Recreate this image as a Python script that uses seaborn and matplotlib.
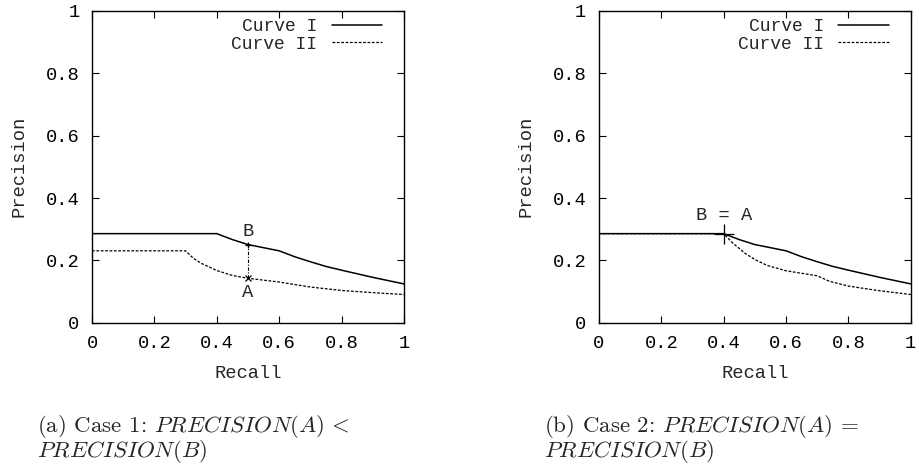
import matplotlib
matplotlib.use("Agg")
import matplotlib.pyplot as plt
import seaborn as sns
import pandas as pd

# ---- data ----
recall_I = [0.0, 0.4, 0.45, 0.5, 0.6, 0.65, 0.7, 0.75, 0.8, 0.9, 1.0]
prec_I = [0.286, 0.286, 0.267, 0.251, 0.231, 0.212, 0.196, 0.181, 0.169, 0.146, 0.125]

recall_II_a = [0.0, 0.3, 0.325, 0.35, 0.4, 0.45, 0.5, 0.6, 0.7, 0.8, 0.9, 1.0]
prec_II_a = [0.231, 0.231, 0.207, 0.191, 0.168, 0.152, 0.143, 0.131, 0.115, 0.104, 0.097, 0.091]

recall_II_b = [0.0, 0.4, 0.43, 0.47, 0.5, 0.54, 0.6, 0.7, 0.74, 0.8, 0.9, 1.0]
prec_II_b = [0.286, 0.286, 0.255, 0.222, 0.203, 0.184, 0.167, 0.151, 0.133, 0.118, 0.103, 0.091]

point_A_a = (0.5, 0.143)
point_B_a = (0.5, 0.251)
point_BA_b = (0.4, 0.286)

ticks = [0, 0.2, 0.4, 0.6, 0.8, 1]
tick_labels = ["0", "0.2", "0.4", "0.6", "0.8", "1"]
caption_a = ["(a) Case 1: $PRECISION(A)\\,<$", "$PRECISION(B)$"]
caption_b = ["(b) Case 2: $PRECISION(A)\\,=$", "$PRECISION(B)$"]

sns.set_style("ticks")
plt.rcParams["font.family"] = ["Liberation Mono", "DejaVu Sans Mono"]
plt.rcParams["mathtext.fontset"] = "cm"

fig = plt.figure(figsize=(9.2, 4.68), dpi=100)
ax1 = fig.add_axes([0.1, 0.31, 0.339, 0.667])
ax2 = fig.add_axes([0.651, 0.31, 0.339, 0.667])

dash_style = (0, (2.2, 1.3))
FS = 13.5

def draw(ax, rII, pII):
    dfI = pd.DataFrame({"Recall": recall_I, "Precision": prec_I})
    dfII = pd.DataFrame({"Recall": rII, "Precision": pII})
    sns.lineplot(data=dfI, x="Recall", y="Precision", ax=ax, color="black",
                 lw=1.1, label="Curve I", sort=False)
    sns.lineplot(data=dfII, x="Recall", y="Precision", ax=ax, color="black",
                 lw=0.9, linestyle=dash_style, label="Curve II", sort=False)
    ax.set_xlim(0, 1)
    ax.set_ylim(0, 1)
    ax.set_xticks(ticks)
    ax.set_xticklabels(tick_labels)
    ax.set_yticks(ticks)
    ax.set_yticklabels(tick_labels)
    ax.tick_params(direction="in", top=True, right=True, length=5, width=0.8,
                   labelsize=FS, pad=9, colors="black")
    for s in ax.spines.values():
        s.set_visible(True)
        s.set_linewidth(1.0)
        s.set_color("black")
    ax.set_xlabel("Recall", fontsize=FS, labelpad=9)
    ax.set_ylabel("Precision", fontsize=FS, labelpad=13)
    ax.legend(loc="upper right", bbox_to_anchor=(0.965, 1.012), frameon=False,
              markerfirst=False, fontsize=13, handlelength=2.8,
              handletextpad=0.8, labelspacing=0.05, borderaxespad=0.2)

draw(ax1, recall_II_a, prec_II_a)
draw(ax2, recall_II_b, prec_II_b)

# annotations panel a
ax1.plot([point_A_a[0], point_B_a[0]], [point_A_a[1], point_B_a[1]],
         color="black", lw=0.8, linestyle=(0, (3, 1.5, 1, 1.5)))
ax1.plot([point_B_a[0]], [point_B_a[1]], marker="+", color="black", ms=5, mew=0.9)
ax1.plot([point_A_a[0]], [point_A_a[1]], marker="x", color="black", ms=4, mew=0.9)
ax1.text(point_B_a[0], point_B_a[1] + 0.043, "B", ha="center", va="center", fontsize=FS)
ax1.text(point_A_a[0], point_A_a[1] - 0.047, "A", ha="center", va="center", fontsize=FS)

# annotations panel b
ax2.plot([point_BA_b[0]], [point_BA_b[1]], marker="+", color="black", ms=15, mew=0.9)
ax2.text(point_BA_b[0], point_BA_b[1] + 0.058, "B = A", ha="center", va="center", fontsize=FS)

for x0, cap in [(37 / 920, caption_a), (544 / 920, caption_b)]:
    fig.text(x0, (468 - 432) / 468, cap[0], ha="left", va="baseline", fontsize=16.5,
             family=["cmr10", "DejaVu Serif"])
    fig.text(x0, (468 - 457) / 468, cap[1], ha="left", va="baseline", fontsize=16.5,
             family=["cmr10", "DejaVu Serif"])

fig.savefig("out.png", dpi=100, facecolor="white")
